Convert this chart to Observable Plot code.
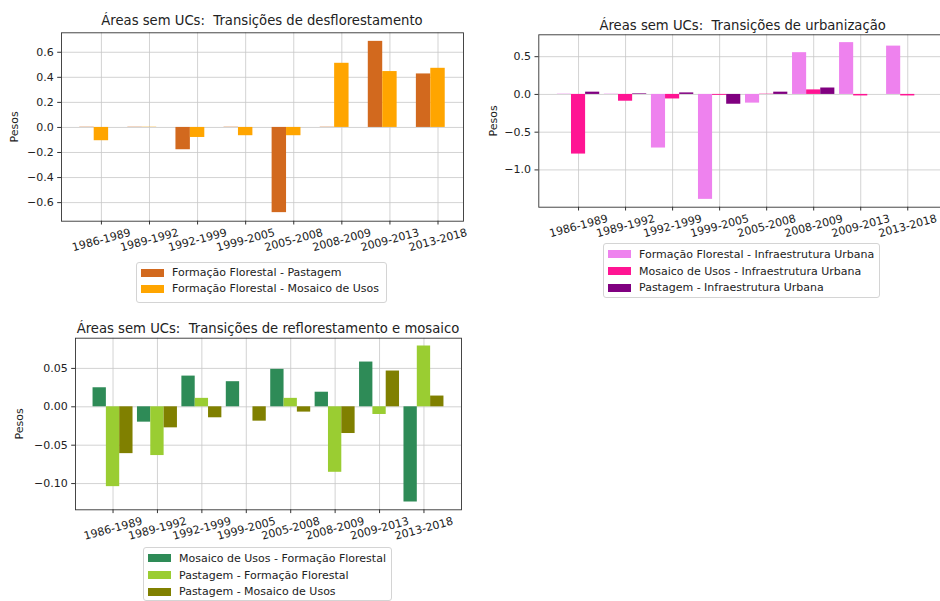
<!DOCTYPE html>
<html><head><meta charset="utf-8">
<script src="https://cdn.jsdelivr.net/npm/d3@7"></script>
<script src="https://cdn.jsdelivr.net/npm/@observablehq/plot@0.6"></script>
<style>
html,body{margin:0;padding:0;background:#fff;}
#root{position:relative;width:940px;height:601px;overflow:hidden;font-family:"DejaVu Sans",sans-serif;color:#222;background:#fff;}
.title{position:absolute;font-size:13.2px;line-height:16px;text-align:center;white-space:pre;color:#222;}
.legend{position:absolute;border:1px solid #d4d4d4;border-radius:3px;background:#fff;box-sizing:border-box;padding:2px 0 0 4px;font-size:11px;color:#222;}
.legend .row{display:flex;align-items:center;white-space:pre;}
.legend .sw{width:23px;height:8px;margin-right:8px;flex:none;}
</style></head><body><div id="root"></div>
<script>
// ---------- data ----------
const periods = ["1986-1989","1989-1992","1992-1999","1999-2005","2005-2008","2008-2009","2009-2013","2013-2018"];

// Chart 1: desflorestamento
const title1 = "Áreas sem UCs:  Transições de desflorestamento";
const names1 = ["Formação Florestal - Pastagem","Formação Florestal - Mosaico de Usos"];
const colors1 = ["#d2691e","#ffa500"];
const ffPastagem = [0.002, 0.002, -0.178, 0.002, -0.68, 0.002, 0.687, 0.427];
const ffMosaico  = [-0.106, 0.002, -0.08, -0.066, -0.066, 0.512, 0.446, 0.472];
const yTicks1 = [-0.6,-0.4,-0.2,0,0.2,0.4,0.6];

// Chart 2: urbanização
const title2 = "Áreas sem UCs:  Transições de urbanização";
const names2 = ["Formação Florestal - Infraestrutura Urbana","Mosaico de Usos - Infraestrutura Urbana","Pastagem - Infraestrutura Urbana"];
const colors2 = ["#ee82ee","#ff1493","#800080"];
const ffUrb  = [0.004, 0.004, -0.71, -1.39, -0.115, 0.553, 0.686, 0.64];
const mosUrb = [-0.79, -0.09, -0.06, -0.012, 0.004, 0.06, -0.02, -0.02];
const pasUrb = [0.03, 0.008, 0.02, -0.13, 0.03, 0.085, 0.0, 0.0];
const yTicks2 = [-1.0,-0.5,0,0.5];

// Chart 3: reflorestamento e mosaico
const title3 = "Áreas sem UCs:  Transições de reflorestamento e mosaico";
const names3 = ["Mosaico de Usos - Formação Florestal","Pastagem - Formação Florestal","Pastagem - Mosaico de Usos"];
const colors3 = ["#2e8b57","#9acd32","#808000"];
const mosFF  = [0.0248, -0.020, 0.040, 0.0327, 0.0488, 0.019, 0.0583, -0.124];
const pasFF  = [-0.104, -0.0635, 0.011, 0.0, 0.011, -0.0853, -0.010, 0.0792];
const pasMos = [-0.061, -0.0274, -0.0143, -0.0187, -0.0069, -0.0348, 0.0466, 0.014];
const yTicks3 = [-0.10,-0.05,0,0.05];

// ---------- drawing ----------
const root = document.getElementById("root");
const BAR_W = 0.3;
const tickIdx = periods.map((d,i)=>i);

function drawChart(cfg){
  const rows = cfg.names.flatMap((name,i)=>cfg.values[i].map((v,j)=>({name, j, v, off:(i-1)*BAR_W})));
  const offs = cfg.names.map((n,i)=>(i-1)*BAR_W);
  const lo = d3.min(offs) - BAR_W/2, hi = periods.length-1 + d3.max(offs) + BAR_W/2;
  const xs = hi - lo;
  const xDomain = [lo - 0.05*xs, hi + 0.05*xs];
  const m = Math.min(0, d3.min(rows, d=>d.v)), M = Math.max(0, d3.max(rows, d=>d.v));
  const ys = M - m;
  const yDomain = [m - 0.05*ys, M + 0.05*ys];
  const s = cfg.svg, f = cfg.frame;
  const svg = Plot.plot({
    width: s.width, height: s.height,
    marginLeft: f.left - s.left, marginRight: s.left + s.width - f.right,
    marginTop: f.top - s.top, marginBottom: s.top + s.height - f.bottom,
    style: {fontFamily: "DejaVu Sans, sans-serif", fontSize: "11px", color: "#222", background: "transparent", overflow: "visible"},
    x: {type: "linear", domain: xDomain, axis: null},
    y: {domain: yDomain, axis: null},
    color: {domain: cfg.names, range: cfg.colors},
    marks: [
      Plot.gridX(tickIdx, {stroke: "#c8c8c8", strokeOpacity: 1, strokeWidth: 0.8}),
      Plot.gridY(cfg.yTicks, {stroke: "#c8c8c8", strokeOpacity: 1, strokeWidth: 0.8}),
      Plot.rectY(rows, {x1: d=>d.j + d.off - BAR_W/2, x2: d=>d.j + d.off + BAR_W/2, y: "v", fill: "name"}),
      Plot.frame({stroke: "#333", strokeWidth: 0.9}),
      Plot.axisX(tickIdx, {tickSize: 3.8, tickPadding: 15, tickFormat: i=>periods[i], tickRotate: -15, textAnchor: "middle", lineAnchor: "middle", label: null, stroke: "#333"}),
      Plot.axisY(cfg.yTicks, {tickSize: 3.8, tickPadding: 4, tickFormat: d3.format(cfg.yFmt), label: "Pesos", labelAnchor: "center", labelArrow: "none", labelOffset: cfg.labelOffset, stroke: "#333"})
    ]
  });
  svg.style.position = "absolute";
  svg.style.left = s.left + "px";
  svg.style.top = s.top + "px";
  svg.style.maxWidth = "none";
  root.appendChild(svg);

  const t = document.createElement("div");
  t.className = "title";
  t.textContent = cfg.title;
  t.style.left = f.left + "px";
  t.style.width = (f.right - f.left) + "px";
  t.style.top = cfg.titleTop + "px";
  root.appendChild(t);

  const L = cfg.legend;
  const lg = document.createElement("div");
  lg.className = "legend";
  lg.style.left = L.left + "px"; lg.style.top = L.top + "px";
  lg.style.width = L.width + "px"; lg.style.height = L.height + "px";
  cfg.names.forEach((n,i)=>{
    const r = document.createElement("div");
    r.className = "row";
    r.style.height = L.row + "px";
    const sw = document.createElement("span");
    sw.className = "sw"; sw.style.background = cfg.colors[i];
    const tx = document.createElement("span");
    tx.textContent = n;
    r.appendChild(sw); r.appendChild(tx);
    lg.appendChild(r);
  });
  root.appendChild(lg);
}

drawChart({
  title: title1, names: names1, colors: colors1, values: [ffPastagem, ffMosaico],
  yTicks: yTicks1, yFmt: ".1f", labelOffset: 51,
  svg: {left: 0, top: 0, width: 470, height: 262},
  frame: {left: 61, right: 463, top: 32.3, bottom: 220.7},
  titleTop: 12.5,
  legend: {left: 136, top: 262, width: 251, height: 41, row: 15.7}
});
drawChart({
  title: title2, names: names2, colors: colors2, values: [ffUrb, mosUrb, pasUrb],
  yTicks: yTicks2, yFmt: ".1f", labelOffset: 50,
  svg: {left: 480, top: 0, width: 470, height: 245},
  frame: {left: 538.3, right: 947, top: 34.3, bottom: 206.7},
  titleTop: 17.5,
  legend: {left: 603, top: 243, width: 277, height: 55, row: 16.7}
});
drawChart({
  title: title3, names: names3, colors: colors3, values: [mosFF, pasFF, pasMos],
  yTicks: yTicks3, yFmt: ".2f", labelOffset: 60,
  svg: {left: 0, top: 310, width: 470, height: 240},
  frame: {left: 75, right: 461, top: 337.7, bottom: 509.3},
  titleTop: 320.8,
  legend: {left: 143, top: 547, width: 249, height: 54, row: 16.7}
});
</script>
</body></html>
